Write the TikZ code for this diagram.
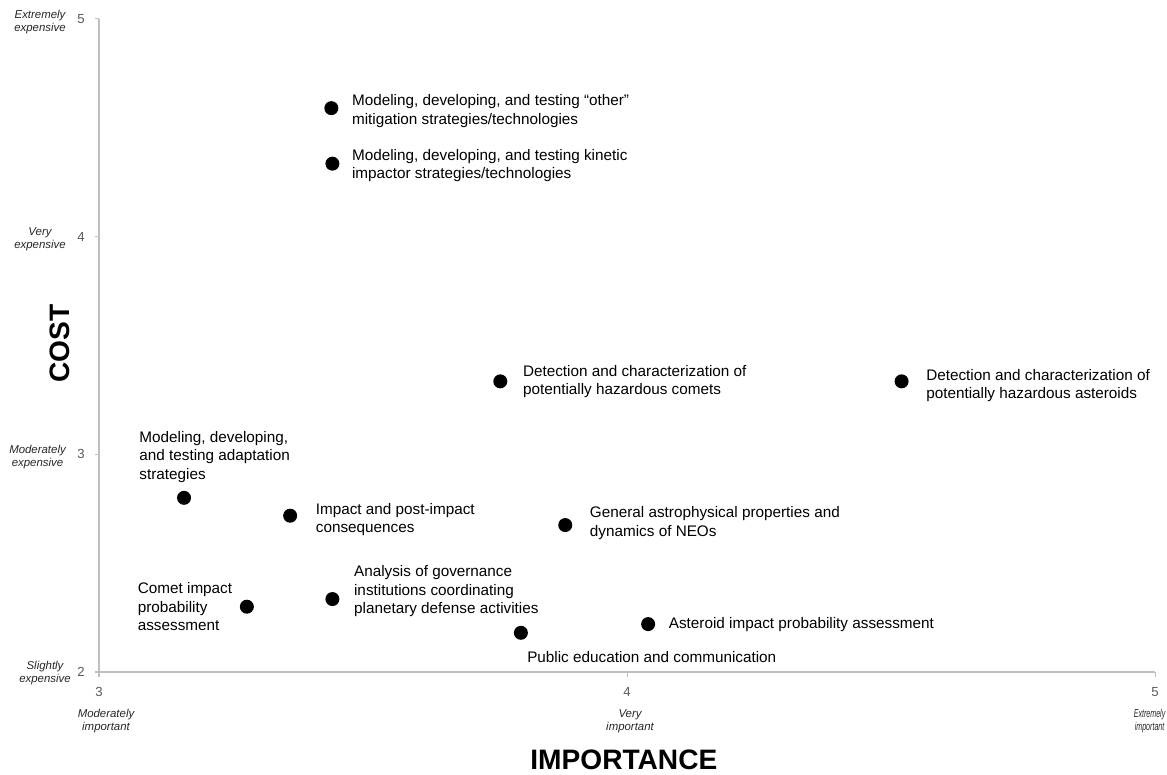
\documentclass[tikz,border=0pt]{standalone}
\usepackage{fontspec}
\setmainfont{Liberation Sans}
\usepackage{xcolor}
\usetikzlibrary{positioning}
\definecolor{axisgrey}{HTML}{BFBFBF}
\definecolor{tickgrey}{HTML}{595959}

\begin{document}
\begin{tikzpicture}[
		x=10.56cm, y=4.354cm,
		point/.style={circle, fill=black, minimum size=0.28cm, inner sep=0pt},
		topic/.style={align=left, inner sep=0pt, font=\fontsize{8.7}{10.5}\selectfont},
		ticknum/.style={text=tickgrey, inner sep=0pt, font=\fontsize{7.5}{9}\selectfont},
		scalelab/.style={align=center, inner sep=0pt, text=black!85, font=\itshape\fontsize{6.5}{7.4}\selectfont},
		axistitle/.style={inner sep=0pt, font=\bfseries\fontsize{16}{18}\selectfont}
		]
	
		\useasboundingbox (2.8125,1.5315) rectangle (5.0227,5.0868);
	
		% axes
		\coordinate (origin) at (3,2);
		\coordinate (ytop) at (3,5);
		\coordinate (xend) at (5,2);
		\draw[axisgrey, line width=0.6pt] (ytop) -- (origin) -- (xend);
		\foreach \v in {2,3,4,5} {
			\draw[axisgrey, line width=0.6pt] (3,\v) -- ++(-0.09cm,0pt);
			\draw[axisgrey, line width=0.6pt] (\v,2) -- ++(0pt,-0.1cm);
			\node[ticknum, anchor=east] (ynum\v) at ([xshift=-0.28cm]3,\v) {\v};
			\node[ticknum, anchor=north] (xnum\v) at ([yshift=-0.3cm]\v,2) {\v};
		}
	
		% scale words
		\node[scalelab] (ylab5) at ([xshift=-1.18cm, yshift=-0.06cm]3,5) {Extremely\\expensive};
		\node[scalelab] (ylab4) at ([xshift=-1.18cm, yshift=-0.06cm]3,4) {Very\\expensive};
		\node[scalelab] (ylab3) at ([xshift=-1.23cm, yshift=-0.05cm]3,3) {Moderately\\expensive};
		\node[scalelab] (ylab2) at ([xshift=-1.08cm, yshift=-0.03cm]3,2) {Slightly\\expensive};
		\node[scalelab] (xlab3) at ([xshift=0.14cm, yshift=-0.98cm]3,2) {Moderately\\important};
		\node[scalelab] (xlab4) at ([xshift=0.06cm, yshift=-0.98cm]4,2) {Very\\important};
		\node[scalelab, xscale=0.62, anchor=east] (xlab5) at ([xshift=0.21cm, yshift=-0.98cm]5,2) {Extremely\\important};
	
		\node[axistitle, rotate=90] (cost) at ([xshift=-0.78cm]3,3.51) {COST};
		\node[axistitle] (importance) at ([yshift=-1.76cm]3.994,2) {IMPORTANCE};
	
		% research topics
		\node[point] (other) at (3.44, 4.59) {};
		\node[point] (kinetic) at (3.442, 4.335) {};
		\node[point] (comets) at (3.76, 3.335) {};
		\node[point] (asteroids) at (4.52, 3.335) {};
		\node[point] (adapt) at (3.161, 2.80) {};
		\node[point] (impact) at (3.362, 2.718) {};
		\node[point] (astro) at (3.883, 2.675) {};
		\node[point] (cometprob) at (3.280, 2.30) {};
		\node[point] (gov) at (3.442, 2.335) {};
		\node[point] (public) at (3.799, 2.18) {};
		\node[point] (astprob) at (4.040, 2.22) {};
	
		\node[topic, right=0.26cm of other, yshift=-0.06cm] (otherlab) {Modeling, developing, and testing ``other''\\mitigation strategies/technologies};
		\node[topic, right=0.24cm of kinetic, yshift=-0.04cm] (kineticlab) {Modeling, developing, and testing kinetic\\impactor strategies/technologies};
		\node[topic, right=0.30cm of comets] (cometslab) {Detection and characterization of\\potentially hazardous comets};
		\node[topic, right=0.34cm of asteroids, yshift=-0.08cm] (asteroidslab) {Detection and characterization of\\potentially hazardous asteroids};
		\node[topic, anchor=south west] (adaptlab) at ([xshift=-0.9cm, yshift=0.3cm]adapt) {Modeling, developing,\\and testing adaptation\\strategies};
		\node[topic, right=0.36cm of impact, yshift=-0.08cm] (impactlab) {Impact and post-impact\\consequences};
		\node[topic, right=0.34cm of astro, yshift=0.04cm] (astrolab) {General astrophysical properties and\\dynamics of NEOs};
		\node[topic, left=0.14cm of cometprob] (cometproblab) {Comet impact\\probability\\assessment};
		\node[topic, right=0.28cm of gov, yshift=0.16cm] (govlab) {Analysis of governance\\institutions coordinating\\planetary defense activities};
		\node[topic, anchor=north west] (publiclab) at ([xshift=0.12cm, yshift=-0.37cm]public) {Public education and communication};
		\node[topic, right=0.26cm of astprob] (astproblab) {Asteroid impact probability assessment};
	\end{tikzpicture}
\end{document}
